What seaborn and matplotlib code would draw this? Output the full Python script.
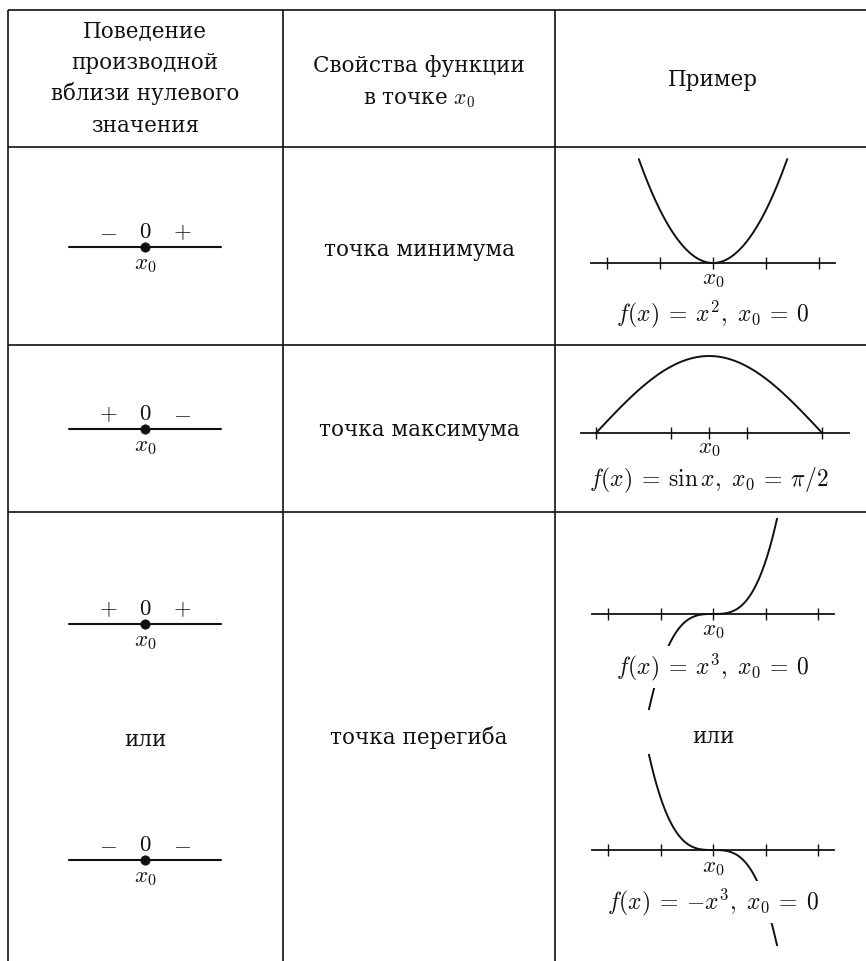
import numpy as np
import matplotlib
matplotlib.use("Agg")
import matplotlib.pyplot as plt
import seaborn as sns

# ---------------- data ----------------
HEADER_COL1 = ["Поведение", "производной", "вблизи нулевого", "значения"]
HEADER_COL2 = ["Свойства функции", "в точке $x_0$"]
HEADER_COL3 = ["Пример"]
PROPERTIES = ["точка минимума", "точка максимума", "точка перегиба"]
OR_WORD = "или"
SIGN_CHARTS = [("$-$", "$0$", "$+$"), ("$+$", "$0$", "$-$"),
               ("$+$", "$0$", "$+$"), ("$-$", "$0$", "$-$")]
POINT_LABEL = "$x_0$"
EXAMPLE_FORMULAS = [r"$f(x)\:{=}\:x^2,\ x_0\:{=}\:0$",
                    r"$f(x)\:{=}\:\sin x,\ x_0\:{=}\:\pi/2$",
                    r"$f(x)\:{=}\:x^3,\ x_0\:{=}\:0$",
                    r"$f(x)\:{=}\:{-}x^3,\ x_0\:{=}\:0$"]
UNIT_TICKS = [-2, -1, 0, 1, 2]
SINE_TICKS = [0, np.pi / 3, np.pi / 2, 2 * np.pi / 3, np.pi]

PARABOLA_X = np.linspace(-1.4, 1.4, 141)
PARABOLA_Y = PARABOLA_X ** 2
SINE_X = np.linspace(0, np.pi, 141)
SINE_Y = np.sin(SINE_X)
CUBIC_X = np.linspace(-1.22, 1.22, 141)
CUBIC_Y = CUBIC_X ** 3
NEG_CUBIC_Y = -CUBIC_X ** 3

# ---------------- style ----------------
sns.set_theme(style="white")
plt.rcParams["font.family"] = ["DejaVu Serif", "DejaVu Sans"]
plt.rcParams["mathtext.fontset"] = "cm"

W, H = 866, 961
fig = plt.figure(figsize=(W / 100, H / 100), dpi=100)
fig.patch.set_facecolor("white")

INK = "#111111"
TXT = 15.5
MATH = 16.5
FORM = 17

bg = fig.add_axes([0, 0, 1, 1])
bg.set_xlim(0, W)
bg.set_ylim(H, 0)
bg.axis("off")

# table grid
X_LEFT, X_D1, X_D2, X_RIGHT = 8, 283, 555, 866
Y_TOP, Y_H, Y_R1, Y_R2, Y_BOT = 10, 147, 345, 512, 961
for y in (Y_TOP, Y_H, Y_R1, Y_R2):
    bg.plot([X_LEFT, X_RIGHT], [y, y], color=INK, lw=1.2, solid_capstyle="butt")
for x in (X_LEFT, X_D1, X_D2):
    bg.plot([x, x], [Y_TOP, Y_BOT], color=INK, lw=1.2, solid_capstyle="butt")

C1, C2, C3 = 145, 419, 713

# headers
for txt, yb in zip(HEADER_COL1, [37, 69, 100, 132]):
    bg.text(C1, yb, txt, ha="center", va="baseline", fontsize=TXT, color=INK)
for txt, yb in zip(HEADER_COL2, [72, 104]):
    bg.text(C2, yb, txt, ha="center", va="baseline", fontsize=TXT, color=INK)
bg.text(C3, 86, HEADER_COL3[0], ha="center", va="baseline", fontsize=TXT, color=INK)

# property column
for txt, yb in zip(PROPERTIES, [256, 436, 744]):
    bg.text(C2, yb, txt, ha="center", va="baseline", fontsize=TXT, color=INK)
bg.text(C1, 746, OR_WORD, ha="center", va="baseline", fontsize=TXT, color=INK)
bg.text(C3, 743, OR_WORD, ha="center", va="baseline", fontsize=TXT, color=INK)


def px_axes(cx, cy, ux, uy, xlim, ylim):
    left = cx + xlim[0] * ux
    right = cx + xlim[1] * ux
    top = cy - ylim[1] * uy
    bottom = cy - ylim[0] * uy
    ax = fig.add_axes([left / W, 1 - bottom / H, (right - left) / W, (bottom - top) / H])
    ax.set_xlim(*xlim)
    ax.set_ylim(*ylim)
    ax.set_facecolor("none")
    for s in ("top", "right", "left", "bottom"):
        ax.spines[s].set_visible(False)
    ax.set_xticks([])
    ax.set_yticks([])
    return ax


# sign charts (column 1)
SIGN_LINE_Y = [247, 429, 624, 860]
for signs, ly in zip(SIGN_CHARTS, SIGN_LINE_Y):
    ux, uy = 76.0, 20.0
    ax = px_axes(C1, ly, ux, uy, (-1.05, 1.05), (-1.6, 1.6))
    sns.lineplot(x=[-1, 1], y=[0, 0], ax=ax, color=INK, linewidth=1.5)
    sns.scatterplot(x=[0], y=[0], ax=ax, color=INK, s=45, edgecolor=INK, zorder=5)
    for sx, s in zip([-37 / ux, 0, 37 / ux], signs):
        ax.text(sx, 9 / uy, s, ha="center", va="baseline", fontsize=MATH, color=INK)
    ax.text(0, -17 / uy, POINT_LABEL, ha="center", va="center", fontsize=MATH, color=INK)
    ax.set_xlabel("")
    ax.set_ylabel("")


def example_axes(cx, cy, ux, uy, xlim, ylim, ticks):
    ax = px_axes(cx, cy, ux, uy, xlim, ylim)
    ax.spines["bottom"].set_visible(True)
    ax.spines["bottom"].set_position(("data", 0))
    ax.spines["bottom"].set_color(INK)
    ax.spines["bottom"].set_linewidth(1.3)
    ax.set_xticks(ticks)
    ax.set_xticklabels([])
    ax.tick_params(axis="x", bottom=True, direction="inout", length=8, width=1.0, color=INK)
    return ax


def finish(ax, x0_pos, label_y, formula, formula_y):
    ax.text(x0_pos, label_y, POINT_LABEL, ha="center", va="center", fontsize=MATH,
            color=INK, zorder=6)
    ax.text(x0_pos, formula_y, formula, ha="center", va="center", fontsize=FORM,
            color=INK, zorder=10,
            bbox=dict(boxstyle="square,pad=0.22", facecolor="white", edgecolor="none"))
    ax.set_xlabel("")
    ax.set_ylabel("")


# parabola
U = 53.0
ax = example_axes(C3, 263, U, U, (-2.3, 2.3), (-1.2, 2.15), UNIT_TICKS)
sns.lineplot(x=PARABOLA_X, y=PARABOLA_Y, ax=ax, color=INK, linewidth=1.4, sort=False)
finish(ax, 0, -16 / U, EXAMPLE_FORMULAS[0], -51 / U)

# sine
SX, SY = 72.0, 77.0
ax = example_axes(596, 433, SX, SY, (-0.21, 3.52), (-0.75, 1.1), SINE_TICKS)
sns.lineplot(x=SINE_X, y=SINE_Y, ax=ax, color=INK, linewidth=1.4, sort=False)
finish(ax, np.pi / 2, -15 / SY, EXAMPLE_FORMULAS[1], -47 / SY)

# x^3
U3 = 52.5
ax = example_axes(C3, 614, U3, U3, (-2.3, 2.3), (-2.0, 2.0), UNIT_TICKS)
sns.lineplot(x=CUBIC_X, y=CUBIC_Y, ax=ax, color=INK, linewidth=1.4, sort=False)
finish(ax, 0, -16 / U3, EXAMPLE_FORMULAS[2], -53 / U3)

# -x^3
ax = example_axes(C3, 850, U3, U3, (-2.3, 2.3), (-2.0, 2.0), UNIT_TICKS)
sns.lineplot(x=CUBIC_X, y=NEG_CUBIC_Y, ax=ax, color=INK, linewidth=1.4, sort=False)
finish(ax, 0, -17 / U3, EXAMPLE_FORMULAS[3], -52 / U3)

fig.savefig("out.png", dpi=100, facecolor="white")
